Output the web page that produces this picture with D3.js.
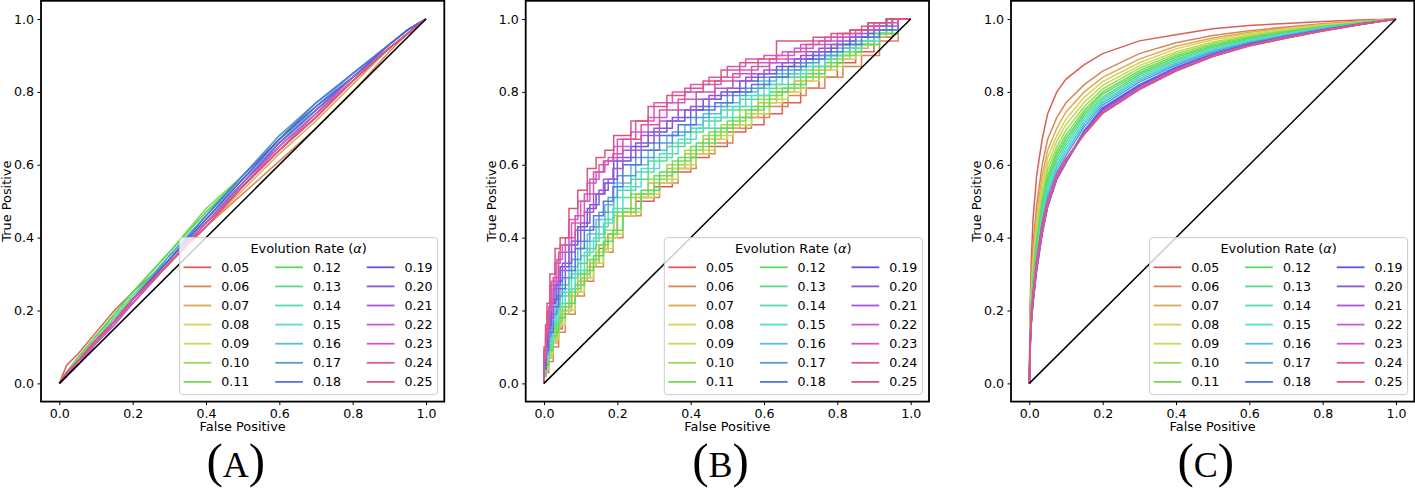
<!DOCTYPE html>
<html><head><meta charset="utf-8">
<script src="https://cdn.jsdelivr.net/npm/d3@7"></script>
<style>body{margin:0;background:#fff}svg{display:block}</style>
</head><body>
<svg id="chart" width="1415" height="489"></svg>
<script>
// ---------------- data ----------------
const rates = ["0.05","0.06","0.07","0.08","0.09","0.10","0.11","0.12","0.13","0.14","0.15","0.16","0.17","0.18","0.19","0.20","0.21","0.22","0.23","0.24","0.25"];
const tickValues = [0, 0.2, 0.4, 0.6, 0.8, 1.0];
const tickLabels = ["0.0","0.2","0.4","0.6","0.8","1.0"];
const panelLabels = ["A","B","C"];
const legendTitle = "Evolution Rate (";
const xLabel = "False Positive";
const yLabel = "True Positive";

// Panel A: false-positive grid and true-positive values per rate
const fprA = [0, 0.02, 0.05, 0.1, 0.15, 0.2, 0.3, 0.4, 0.5, 0.6, 0.7, 0.8, 0.9, 0.95, 1];
const tprA = [
 [0,0.05,0.08,0.14,0.20,0.25,0.34,0.44,0.54,0.64,0.73,0.83,0.92,0.96,1],
 [0,0.03,0.06,0.12,0.18,0.23,0.33,0.43,0.52,0.61,0.70,0.80,0.91,0.96,1],
 [0,0.03,0.07,0.12,0.18,0.23,0.33,0.43,0.53,0.63,0.72,0.82,0.92,0.96,1],
 [0,0.03,0.06,0.12,0.17,0.23,0.33,0.44,0.54,0.64,0.73,0.83,0.92,0.96,1],
 [0,0.03,0.07,0.13,0.18,0.24,0.34,0.45,0.55,0.65,0.74,0.83,0.93,0.97,1],
 [0,0.03,0.07,0.13,0.19,0.25,0.36,0.47,0.56,0.66,0.74,0.84,0.93,0.97,1],
 [0,0.03,0.07,0.13,0.19,0.25,0.36,0.48,0.57,0.67,0.75,0.84,0.93,0.97,1],
 [0,0.03,0.07,0.13,0.19,0.25,0.36,0.47,0.57,0.68,0.76,0.85,0.93,0.97,1],
 [0,0.03,0.06,0.12,0.18,0.24,0.35,0.46,0.56,0.67,0.76,0.84,0.93,0.97,1],
 [0,0.02,0.06,0.12,0.18,0.24,0.34,0.45,0.55,0.66,0.75,0.84,0.92,0.96,1],
 [0,0.02,0.06,0.12,0.17,0.23,0.34,0.45,0.55,0.65,0.75,0.84,0.92,0.96,1],
 [0,0.02,0.06,0.11,0.17,0.23,0.34,0.45,0.56,0.66,0.76,0.85,0.93,0.97,1],
 [0,0.02,0.06,0.12,0.17,0.23,0.35,0.46,0.57,0.68,0.77,0.85,0.93,0.97,1],
 [0,0.02,0.06,0.11,0.17,0.23,0.34,0.46,0.57,0.67,0.77,0.85,0.93,0.97,1],
 [0,0.02,0.06,0.11,0.17,0.23,0.34,0.45,0.56,0.67,0.76,0.84,0.93,0.97,1],
 [0,0.02,0.05,0.11,0.17,0.22,0.33,0.44,0.55,0.66,0.75,0.84,0.92,0.96,1],
 [0,0.02,0.06,0.11,0.16,0.22,0.33,0.44,0.55,0.65,0.74,0.84,0.92,0.96,1],
 [0,0.02,0.05,0.11,0.16,0.22,0.33,0.43,0.54,0.64,0.74,0.83,0.92,0.96,1],
 [0,0.02,0.06,0.11,0.17,0.22,0.33,0.44,0.54,0.65,0.74,0.83,0.92,0.96,1],
 [0,0.03,0.06,0.12,0.17,0.23,0.33,0.44,0.54,0.64,0.73,0.83,0.92,0.96,1],
 [0,0.03,0.06,0.12,0.17,0.23,0.33,0.43,0.54,0.64,0.73,0.83,0.92,0.96,1]
];

// Panel B: three threshold grids (series use them in turn), staircase curves
const fprB1 = [0,0.005,0.01,0.02,0.035,0.05,0.075,0.1,0.125,0.15,0.175,0.2,0.25,0.3,0.35,0.4,0.45,0.5,0.55,0.6,0.65,0.7,0.75,0.8,0.85,0.9,0.95,1];
const fprB2 = [0,0.006,0.013,0.025,0.04,0.058,0.085,0.11,0.135,0.162,0.188,0.215,0.265,0.315,0.366,0.415,0.466,0.515,0.566,0.615,0.666,0.715,0.766,0.815,0.866,0.915,0.966,1];
const fprB3 = [0,0.004,0.008,0.016,0.03,0.044,0.068,0.092,0.118,0.142,0.166,0.19,0.237,0.284,0.335,0.384,0.434,0.483,0.534,0.584,0.634,0.683,0.734,0.783,0.834,0.884,0.934,1];
const tprB = [
 [0,0.02,0.04,0.07,0.11,0.15,0.20,0.25,0.29,0.33,0.37,0.41,0.46,0.50,0.54,0.58,0.62,0.65,0.69,0.71,0.74,0.77,0.81,0.84,0.88,0.91,0.95,1],
 [0,0.02,0.03,0.06,0.10,0.14,0.19,0.24,0.28,0.32,0.36,0.40,0.46,0.51,0.55,0.59,0.63,0.66,0.70,0.73,0.76,0.79,0.81,0.84,0.87,0.90,0.94,1],
 [0,0.02,0.03,0.07,0.11,0.15,0.19,0.24,0.28,0.32,0.36,0.40,0.46,0.51,0.55,0.59,0.63,0.67,0.70,0.73,0.77,0.80,0.83,0.86,0.89,0.92,0.95,1],
 [0,0.02,0.04,0.07,0.11,0.16,0.20,0.25,0.29,0.33,0.36,0.40,0.46,0.51,0.55,0.59,0.63,0.67,0.71,0.74,0.77,0.80,0.83,0.86,0.89,0.93,0.96,1],
 [0,0.02,0.04,0.08,0.12,0.16,0.20,0.25,0.29,0.33,0.37,0.41,0.47,0.52,0.56,0.60,0.64,0.68,0.71,0.74,0.78,0.81,0.84,0.87,0.90,0.93,0.96,1],
 [0,0.02,0.04,0.08,0.12,0.17,0.21,0.26,0.30,0.34,0.38,0.42,0.47,0.52,0.56,0.60,0.64,0.68,0.71,0.75,0.78,0.81,0.84,0.87,0.90,0.93,0.96,1],
 [0,0.02,0.05,0.09,0.13,0.17,0.21,0.26,0.30,0.34,0.38,0.41,0.47,0.52,0.57,0.61,0.65,0.69,0.72,0.75,0.79,0.81,0.84,0.87,0.90,0.93,0.96,1],
 [0,0.02,0.05,0.09,0.14,0.18,0.22,0.27,0.31,0.35,0.39,0.42,0.48,0.53,0.58,0.62,0.66,0.70,0.73,0.76,0.80,0.82,0.85,0.88,0.91,0.93,0.96,1],
 [0,0.02,0.06,0.10,0.15,0.20,0.24,0.29,0.33,0.37,0.41,0.45,0.51,0.56,0.61,0.65,0.69,0.72,0.75,0.78,0.81,0.84,0.86,0.89,0.91,0.94,0.96,1],
 [0,0.03,0.06,0.10,0.16,0.21,0.25,0.30,0.35,0.39,0.43,0.47,0.53,0.58,0.62,0.66,0.70,0.73,0.76,0.79,0.82,0.84,0.87,0.89,0.92,0.94,0.97,1],
 [0,0.03,0.07,0.11,0.17,0.22,0.26,0.31,0.36,0.40,0.44,0.48,0.54,0.59,0.63,0.67,0.70,0.73,0.76,0.79,0.82,0.85,0.87,0.90,0.92,0.94,0.97,1],
 [0,0.03,0.07,0.12,0.18,0.23,0.27,0.32,0.37,0.41,0.45,0.49,0.55,0.60,0.64,0.68,0.71,0.74,0.77,0.80,0.83,0.85,0.88,0.90,0.92,0.95,0.97,1],
 [0,0.04,0.08,0.13,0.19,0.24,0.29,0.34,0.39,0.43,0.47,0.51,0.57,0.62,0.66,0.69,0.73,0.76,0.79,0.81,0.84,0.86,0.88,0.90,0.93,0.95,0.97,1],
 [0,0.04,0.09,0.14,0.21,0.26,0.31,0.37,0.42,0.46,0.50,0.54,0.60,0.64,0.68,0.71,0.75,0.77,0.80,0.82,0.84,0.87,0.89,0.91,0.93,0.95,0.97,1],
 [0,0.05,0.10,0.15,0.22,0.27,0.32,0.38,0.43,0.48,0.52,0.55,0.61,0.65,0.69,0.72,0.75,0.78,0.80,0.83,0.85,0.87,0.89,0.91,0.93,0.95,0.98,1],
 [0,0.05,0.10,0.16,0.23,0.28,0.33,0.39,0.44,0.49,0.53,0.56,0.62,0.66,0.70,0.73,0.76,0.79,0.81,0.84,0.86,0.88,0.90,0.92,0.94,0.96,0.98,1],
 [0,0.06,0.12,0.18,0.26,0.31,0.36,0.42,0.47,0.52,0.56,0.59,0.64,0.68,0.72,0.75,0.78,0.81,0.83,0.85,0.88,0.89,0.91,0.93,0.95,0.97,0.98,1],
 [0,0.07,0.13,0.19,0.27,0.33,0.38,0.45,0.50,0.55,0.58,0.61,0.65,0.69,0.73,0.77,0.80,0.82,0.84,0.86,0.88,0.90,0.92,0.94,0.95,0.97,0.99,1],
 [0,0.08,0.14,0.20,0.28,0.34,0.38,0.44,0.50,0.56,0.60,0.62,0.67,0.72,0.77,0.80,0.82,0.84,0.87,0.89,0.90,0.91,0.93,0.94,0.96,0.97,0.99,1],
 [0,0.09,0.15,0.21,0.29,0.36,0.40,0.46,0.52,0.58,0.61,0.63,0.67,0.71,0.75,0.78,0.80,0.83,0.85,0.87,0.89,0.91,0.93,0.95,0.96,0.98,0.99,1],
 [0,0.10,0.16,0.22,0.30,0.37,0.40,0.48,0.53,0.59,0.62,0.64,0.68,0.72,0.76,0.79,0.81,0.83,0.86,0.88,0.89,0.94,0.94,0.95,0.96,0.97,0.99,1]
];

// Panel C
const fprC = [0,0.002,0.005,0.01,0.02,0.035,0.05,0.075,0.1,0.15,0.2,0.3,0.4,0.5,0.6,0.7,0.8,0.9,1];
const tprC = [
 [0,0.20,0.33,0.45,0.57,0.67,0.74,0.80,0.835,0.875,0.905,0.94,0.957,0.973,0.982,0.988,0.993,0.997,1],
 [0,0.17,0.28,0.38,0.49,0.60,0.67,0.73,0.77,0.82,0.857,0.905,0.935,0.955,0.968,0.978,0.987,0.994,1],
 [0,0.16,0.26,0.35,0.46,0.57,0.64,0.70,0.745,0.80,0.84,0.89,0.925,0.948,0.964,0.975,0.985,0.993,1],
 [0,0.15,0.24,0.33,0.44,0.55,0.62,0.68,0.725,0.785,0.828,0.88,0.918,0.943,0.96,0.973,0.984,0.992,1],
 [0,0.14,0.23,0.31,0.42,0.53,0.60,0.665,0.71,0.772,0.818,0.872,0.91,0.937,0.956,0.97,0.982,0.991,1],
 [0,0.13,0.22,0.30,0.41,0.515,0.585,0.65,0.695,0.76,0.808,0.865,0.905,0.933,0.953,0.968,0.98,0.99,1],
 [0,0.13,0.21,0.29,0.39,0.50,0.57,0.638,0.682,0.75,0.80,0.858,0.90,0.929,0.95,0.966,0.979,0.99,1],
 [0,0.12,0.20,0.28,0.38,0.49,0.56,0.628,0.672,0.742,0.794,0.852,0.895,0.925,0.947,0.964,0.978,0.989,1],
 [0,0.12,0.20,0.27,0.37,0.48,0.55,0.618,0.663,0.735,0.786,0.847,0.89,0.922,0.945,0.962,0.977,0.989,1],
 [0,0.11,0.19,0.26,0.36,0.47,0.54,0.608,0.654,0.728,0.78,0.842,0.886,0.918,0.942,0.96,0.976,0.988,1],
 [0,0.11,0.18,0.26,0.35,0.46,0.53,0.598,0.645,0.72,0.775,0.837,0.882,0.915,0.94,0.958,0.975,0.988,1],
 [0,0.10,0.18,0.25,0.34,0.45,0.52,0.59,0.635,0.713,0.77,0.832,0.878,0.912,0.937,0.956,0.974,0.987,1],
 [0,0.10,0.17,0.24,0.33,0.44,0.51,0.58,0.625,0.705,0.764,0.827,0.873,0.909,0.935,0.954,0.972,0.987,1],
 [0,0.09,0.16,0.23,0.32,0.42,0.49,0.565,0.61,0.695,0.757,0.82,0.868,0.905,0.932,0.952,0.97,0.986,1],
 [0,0.09,0.16,0.22,0.31,0.41,0.485,0.56,0.605,0.69,0.754,0.818,0.866,0.903,0.931,0.951,0.97,0.986,1],
 [0,0.09,0.16,0.22,0.31,0.41,0.485,0.562,0.607,0.688,0.75,0.815,0.864,0.902,0.93,0.95,0.969,0.985,1],
 [0,0.10,0.17,0.23,0.32,0.42,0.49,0.565,0.61,0.687,0.747,0.812,0.862,0.90,0.929,0.95,0.969,0.985,1],
 [0,0.10,0.17,0.23,0.32,0.42,0.49,0.567,0.612,0.686,0.745,0.81,0.86,0.899,0.928,0.949,0.968,0.985,1],
 [0,0.11,0.18,0.24,0.33,0.43,0.495,0.57,0.614,0.685,0.743,0.808,0.858,0.898,0.927,0.948,0.968,0.985,1],
 [0,0.11,0.18,0.24,0.33,0.43,0.495,0.572,0.615,0.684,0.742,0.807,0.858,0.897,0.927,0.948,0.967,0.984,1],
 [0,0.12,0.19,0.25,0.34,0.44,0.50,0.574,0.617,0.684,0.741,0.806,0.857,0.897,0.926,0.947,0.967,0.984,1]
];

// ---------------- drawing ----------------
const svg = d3.select("#chart");
const FONT = "DejaVu Sans, Verdana, sans-serif";
const colors = rates.map((r, i) => d3.hsl(((i / rates.length + 0.01) % 1) * 360, 0.65, 0.6).formatHex());

const panels = [
  { xsFor: () => fprA, ys: tprA, curve: d3.curveLinear },
  { xsFor: i => [fprB1, fprB2, fprB3][i % 3], ys: tprB, curve: d3.curveStepBefore },
  { xsFor: () => fprC, ys: tprC, curve: d3.curveLinear }
];
const frameLeft = [41, 525.7, 1011];
const frameTop = 0.8, frameW = 403.3, frameH = 400.8;

panels.forEach((p, pi) => {
  const g = svg.append("g").attr("transform", `translate(${frameLeft[pi]},${frameTop})`);
  const x = d3.scaleLinear().domain([-0.05, 1.05]).range([0, frameW]);
  const y = d3.scaleLinear().domain([-0.05, 1.05]).range([frameH, 0]);
  const line = d3.line().x(d => x(d[0])).y(d => y(d[1])).curve(p.curve);

  p.ys.forEach((ys, i) => {
    const xs = p.xsFor(i);
    g.append("path")
      .datum(xs.map((v, j) => [v, ys[j]]))
      .attr("d", line)
      .attr("fill", "none")
      .attr("stroke", colors[i])
      .attr("stroke-width", 1.5)
      .attr("stroke-linejoin", "miter");
  });

  // chance diagonal
  g.append("path")
    .datum([[0, 0], [1, 1]])
    .attr("d", d3.line().x(d => x(d[0])).y(d => y(d[1])))
    .attr("stroke", "#000").attr("stroke-width", 1.5).attr("fill", "none");

  // axes
  const xa = g.append("g").attr("transform", `translate(0,${frameH})`)
    .call(d3.axisBottom(x).tickValues(tickValues).tickFormat((d, i) => tickLabels[i]).tickSize(3.5).tickPadding(3.5));
  const ya = g.append("g")
    .call(d3.axisLeft(y).tickValues(tickValues).tickFormat((d, i) => tickLabels[i]).tickSize(3.5).tickPadding(3.5));
  [xa, ya].forEach(a => {
    a.select(".domain").remove();
    a.selectAll(".tick line").attr("stroke", "#000").attr("stroke-width", 1);
    a.selectAll(".tick text").attr("fill", "#000").style("font-family", FONT).style("font-size", "12.6px");
  });

  // frame
  g.append("rect").attr("x", 0).attr("y", 0).attr("width", frameW).attr("height", frameH)
    .attr("fill", "none").attr("stroke", "#000").attr("stroke-width", 1.8);

  // axis labels
  g.append("text").attr("x", x(0.5)).attr("y", frameH + 29.5).attr("text-anchor", "middle")
    .style("font-family", FONT).style("font-size", "12.9px").text(xLabel);
  g.append("text").attr("transform", `translate(-30,${frameH / 2}) rotate(-90)`).attr("text-anchor", "middle")
    .style("font-family", FONT).style("font-size", "12.9px").text(yLabel);

  // legend
  const lw = 258, lh = 157;
  const lg = g.append("g").attr("transform", `translate(${frameW - 6.7 - lw},${frameH - 7 - lh})`);
  lg.append("rect").attr("width", lw).attr("height", lh).attr("rx", 3).attr("ry", 3)
    .attr("fill", "#fff").attr("fill-opacity", 0.8).attr("stroke", "#cccccc").attr("stroke-width", 1);
  const tt = lg.append("text").attr("x", lw / 2).attr("y", 15.3).attr("text-anchor", "middle")
    .style("font-family", FONT).style("font-size", "12.9px");
  tt.append("tspan").text(legendTitle);
  tt.append("tspan").style("font-style", "italic").text("α");
  tt.append("tspan").text(")");
  rates.forEach((r, i) => {
    const c = Math.floor(i / 7), row = i % 7;
    const cy = 29.7 + row * 19.1;
    const cx = c * 91.6;
    lg.append("line").attr("x1", cx + 4).attr("x2", cx + 31.7).attr("y1", cy).attr("y2", cy)
      .attr("stroke", colors[i]).attr("stroke-width", 1.8);
    lg.append("text").attr("x", cx + 41.7).attr("y", cy).attr("dy", "0.36em")
      .style("font-family", FONT).style("font-size", "12.6px").text(r);
  });

  // panel caption
  const cap = svg.append("text").attr("x", frameLeft[pi] + frameW / 2 - 6.8).attr("y", 477)
    .attr("text-anchor", "middle").style("font-family", "Liberation Serif, Times New Roman, serif");
  cap.append("tspan").style("font-size", "49px").text("(");
  cap.append("tspan").style("font-size", "36px").text(panelLabels[pi]);
  cap.append("tspan").style("font-size", "49px").text(")");
});
</script>
</body></html>
